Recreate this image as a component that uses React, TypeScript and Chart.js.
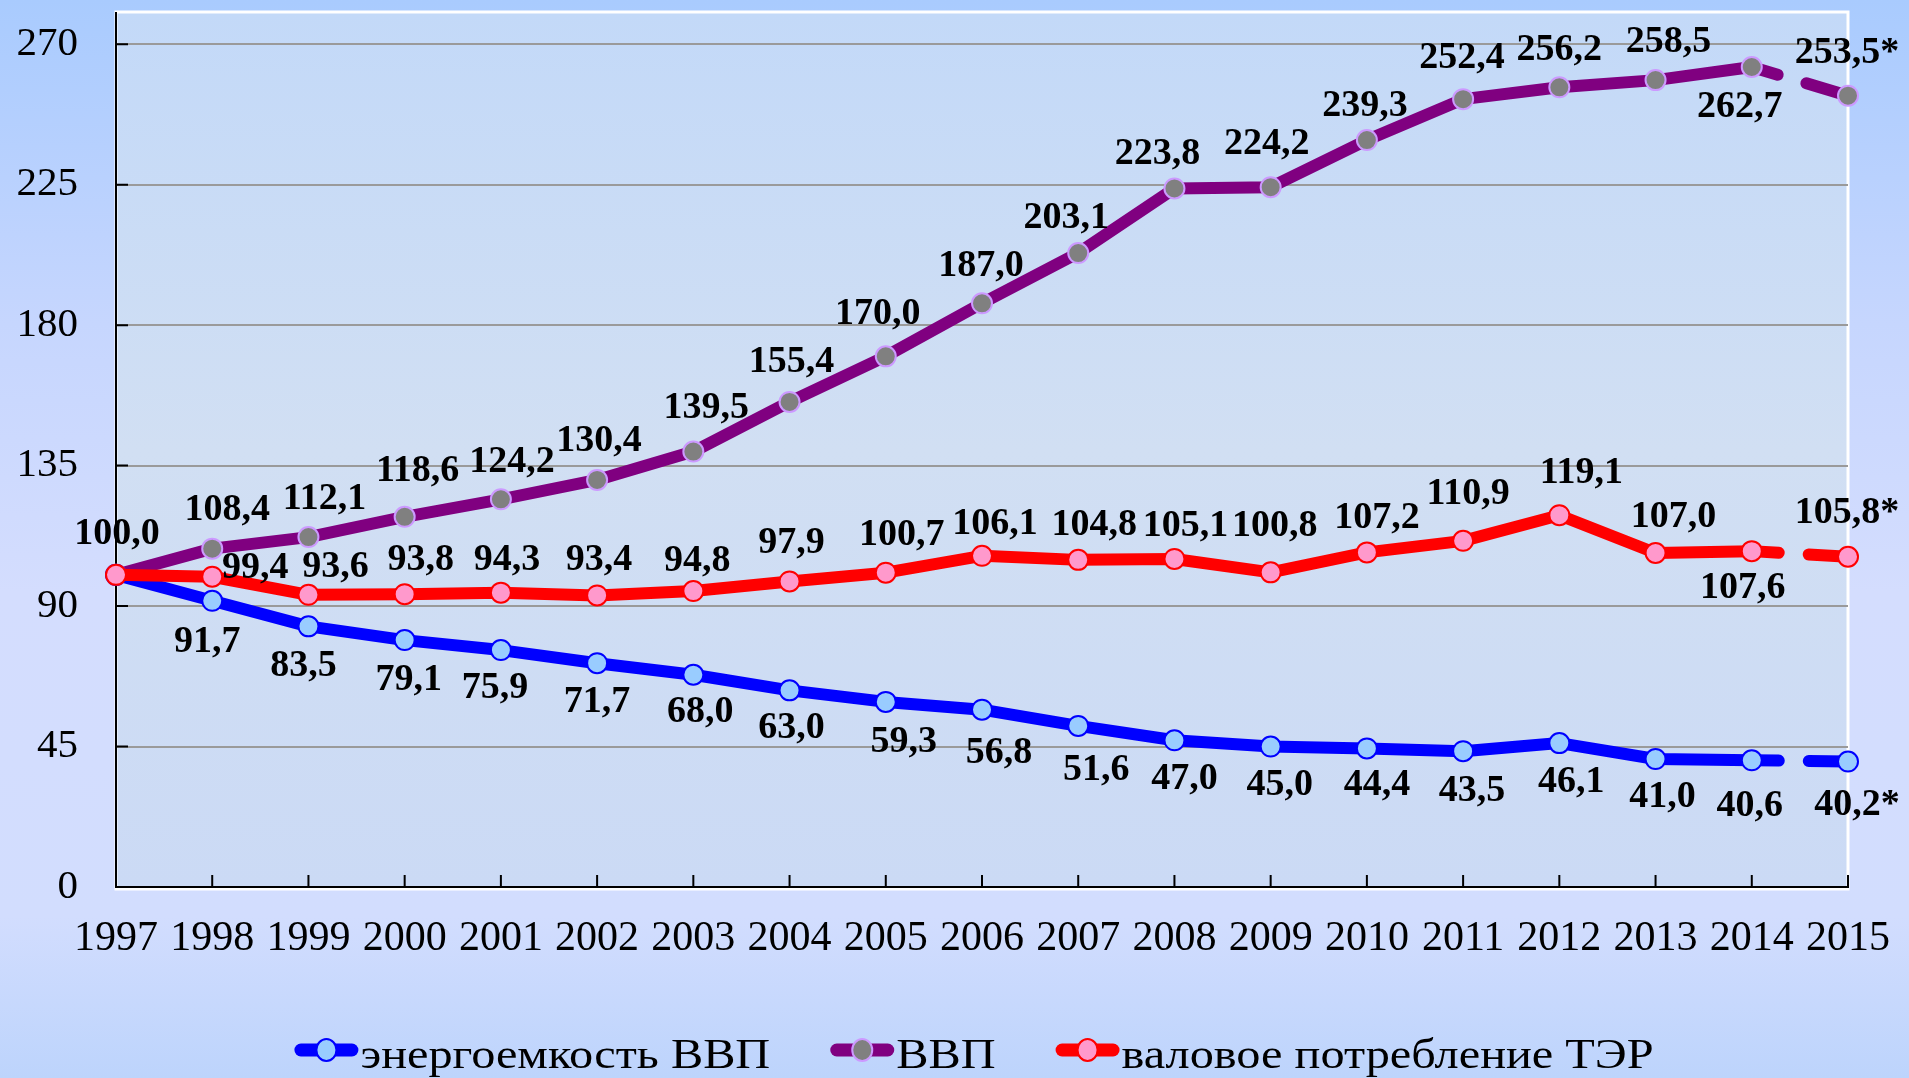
import React, { useEffect, useRef } from 'react';
import { Chart, registerables } from 'chart.js';

Chart.register(...registerables);

// ---------- data ----------
const years = ['1997', '1998', '1999', '2000', '2001', '2002', '2003', '2004', '2005', '2006', '2007', '2008', '2009', '2010', '2011', '2012', '2013', '2014', '2015'];
const energyIntensity = [100.0, 91.7, 83.5, 79.1, 75.9, 71.7, 68.0, 63.0, 59.3, 56.8, 51.6, 47.0, 45.0, 44.4, 43.5, 46.1, 41.0, 40.6, 40.2];
const gdp = [100.0, 108.4, 112.1, 118.6, 124.2, 130.4, 139.5, 155.4, 170.0, 187.0, 203.1, 223.8, 224.2, 239.3, 252.4, 256.2, 258.5, 262.7, 253.5];
const grossConsumption = [100.0, 99.4, 93.6, 93.8, 94.3, 93.4, 94.8, 97.9, 100.7, 106.1, 104.8, 105.1, 100.8, 107.2, 110.9, 119.1, 107.0, 107.6, 105.8];
const yTicks = [0, 45, 90, 135, 180, 225, 270];
const seriesNames = ['энергоемкость ВВП', 'ВВП', 'валовое потребление ТЭР'];
const estimateIndex = 18; // 2015 value is an estimate, marked with "*"

// ---------- label placement (pixel offsets from each point) ----------
type Off = [number, number] | null;
const blueLabelOffsets: Off[] = [null, [-5, 41], [-5, 40], [4, 40], [-6, 38], [0, 39], [7, 37], [2, 38], [18, 40], [17, 43], [18, 44], [10, 39], [9, 39], [10, 37], [9, 40], [12, 39], [7, 38], [-2, 46], [9, 44]];
const gdpLabelOffsets: Off[] = [[1, -41], [15, -38], [16, -38], [13, -46], [11, -37], [2, -39], [13, -43], [2, -40], [-8, -42], [-1, -37], [-12, -35], [-17, -34], [-4, -43], [-2, -34], [-1, -41], [0, -37], [13, -38], [-12, 40], [-1, -43]];
const redLabelOffsets: Off[] = [null, [43, -9], [27, -28], [16, -34], [6, -32], [2, -35], [4, -30], [2, -38], [16, -37], [13, -32], [16, -35], [11, -33], [4, -46], [10, -34], [5, -47], [22, -42], [18, -36], [-9, 37], [-1, -44]];

const FONT = '"Liberation Serif", "Times New Roman", serif';
const W = 1909;
const H = 1078;
const AREA_BOTTOM = 887;
const AREA_RIGHT = 1848;
const LEGEND_STRETCH = 1.15;

const styles = [
  { line: '#0000ff', fill: '#99ccff', border: '#0000ff' },
  { line: '#800080', fill: '#808080', border: '#cc99ff' },
  { line: '#ff0000', fill: '#ff99cc', border: '#ff0000' },
];
const offsets = [blueLabelOffsets, gdpLabelOffsets, redLabelOffsets];

const fmt = (v: number, i: number) => v.toFixed(1).replace('.', ',') + (i === estimateIndex ? '*' : '');

const bgPlugin = {
  id: 'plotBg',
  beforeDraw(chart: any) {
    const { ctx, chartArea: a } = chart;
    ctx.save();
    const g = ctx.createLinearGradient(0, a.top, 0, a.bottom);
    g.addColorStop(0, '#c3d9f8');
    g.addColorStop(0.5, '#d1dff3');
    g.addColorStop(1, '#cbdaf5');
    ctx.fillStyle = g;
    ctx.fillRect(a.left, a.top, a.right - a.left, a.bottom - a.top);
    ctx.strokeStyle = '#ffffff';
    ctx.lineWidth = 3;
    ctx.strokeRect(a.left, a.top - 1, a.right - a.left, a.bottom - a.top + 3);
    ctx.restore();
  },
  beforeDatasetsDraw(chart: any) {
    const { ctx, chartArea: a, scales } = chart;
    ctx.save();
    ctx.strokeStyle = '#000';
    ctx.lineWidth = 2;
    ctx.beginPath();
    yTicks.forEach((v) => {
      if (v === 0) return;
      const py = scales.y.getPixelForValue(v);
      ctx.moveTo(a.left, py);
      ctx.lineTo(a.left + 12, py);
    });
    years.forEach((_, i) => {
      if (i === 0) return;
      const px = scales.x.getPixelForValue(i);
      ctx.moveTo(px, a.bottom);
      ctx.lineTo(px, a.bottom - 12);
    });
    ctx.stroke();
    ctx.restore();
  },
};

const labelPlugin = {
  id: 'valueLabels',
  afterDatasetsDraw(chart: any) {
    const { ctx } = chart;
    ctx.save();
    ctx.font = `bold 38px ${FONT}`;
    ctx.fillStyle = '#000';
    ctx.textAlign = 'center';
    ctx.textBaseline = 'middle';
    chart.data.datasets.forEach((ds: any, d: number) => {
      const meta = chart.getDatasetMeta(d);
      ds.data.forEach((v: number, i: number) => {
        const o = offsets[d][i];
        if (!o) return;
        const el = meta.data[i];
        ctx.fillText(fmt(v, i), el.x + o[0], el.y + o[1]);
      });
    });
    ctx.restore();
  },
};

const legendPlugin = {
  id: 'customLegend',
  afterDraw(chart: any) {
    const { ctx } = chart;
    ctx.save();
    ctx.font = `42px ${FONT}`;
    const markerW = 64;
    const gapText = 2;
    const gapItem = 60;
    const widths = seriesNames.map((n) => ctx.measureText(n).width * LEGEND_STRETCH);
    const total = widths.reduce((s, w) => s + markerW + gapText + w, 0) + gapItem * (seriesNames.length - 1);
    let x = 974 - total / 2;
    const cy = 1050;
    seriesNames.forEach((name, k) => {
      const st = styles[k];
      ctx.strokeStyle = st.line;
      ctx.lineCap = 'round';
      ctx.lineWidth = 13;
      ctx.beginPath();
      ctx.moveTo(x + 6.5, cy);
      ctx.lineTo(x + markerW - 6.5, cy);
      ctx.stroke();
      ctx.beginPath();
      ctx.ellipse(x + markerW / 2, cy, 10, 11, 0, 0, Math.PI * 2);
      ctx.fillStyle = st.fill;
      ctx.fill();
      ctx.lineWidth = 2;
      ctx.strokeStyle = st.border;
      ctx.stroke();
      ctx.fillStyle = '#000';
      ctx.textAlign = 'left';
      ctx.textBaseline = 'alphabetic';
      const tx = x + markerW + gapText;
      ctx.save();
      ctx.translate(tx, 1068);
      ctx.scale(LEGEND_STRETCH, 1);
      ctx.fillText(name, 0, 0);
      ctx.restore();
      x += markerW + gapText + widths[k] + gapItem;
    });
    ctx.restore();
  },
};

function makeDataset(label: string, data: number[], k: number, order: number) {
  const st = styles[k];
  return {
    label,
    data,
    order,
    borderColor: st.line,
    borderWidth: 12,
    borderCapStyle: 'round',
    borderJoinStyle: 'round',
    pointRadius: 10,
    pointBorderWidth: 2,
    pointBackgroundColor: st.fill,
    pointBorderColor: st.border,
    tension: 0,
    fill: false,
    segment: {
      borderDash: (c: any) => (c.p1DataIndex === estimateIndex ? [27, 30, 300] : undefined),
    },
  };
}

export default function App() {
  const ref = useRef<HTMLCanvasElement | null>(null);

  useEffect(() => {
    if (!ref.current) return;
    const chart = new Chart(ref.current, {
      type: 'line',
      data: {
        labels: years,
        datasets: [
          makeDataset(seriesNames[0], energyIntensity, 0, 1),
          makeDataset(seriesNames[1], gdp, 1, 2),
          makeDataset(seriesNames[2], grossConsumption, 2, 0),
        ] as any,
      },
      options: {
        responsive: false,
        maintainAspectRatio: false,
        animation: false,
        events: [],
        layout: { padding: { top: 13, left: 0, right: 0, bottom: 0 } },
        plugins: {
          legend: { display: false },
          tooltip: { enabled: false },
        },
        scales: {
          x: {
            type: 'category',
            offset: false,
            grid: { display: false, drawTicks: false },
            border: { display: true, color: '#000', width: 2 },
            ticks: {
              color: '#000',
              font: { family: FONT, size: 42 },
              padding: 27,
              maxRotation: 0,
              autoSkip: false,
            },
            afterFit: (s: any) => {
              s.height = H - AREA_BOTTOM;
              s.paddingRight = W - AREA_RIGHT;
              s.paddingLeft = 0;
            },
          },
          y: {
            min: 0,
            max: 280,
            afterBuildTicks: (s: any) => {
              s.ticks = yTicks.map((v) => ({ value: v }));
            },
            grid: {
              color: (c: any) => (c.tick && c.tick.value === 0 ? 'rgba(0,0,0,0)' : '#9a9a9a'),
              lineWidth: 2,
              drawTicks: false,
            },
            border: { display: true, color: '#000', width: 2 },
            ticks: {
              color: '#000',
              font: { family: FONT, size: 41 },
              padding: 38,
            },
            afterFit: (s: any) => {
              s.width = 116;
              s.paddingTop = 0;
              s.paddingBottom = 0;
            },
          },
        },
      } as any,
      plugins: [bgPlugin, labelPlugin, legendPlugin],
    });
    return () => chart.destroy();
  }, []);

  return (
    <div
      style={{
        position: 'fixed',
        left: 0,
        top: 0,
        width: W,
        height: H,
        background: 'linear-gradient(180deg, #a9cbfe 0%, #c6d6fe 30%, #d4ddfe 55%, #d2ddfe 85%, #bdd4fc 100%)',
      }}
    >
      <canvas ref={ref} width={W} height={H} style={{ display: 'block', width: W, height: H }} />
    </div>
  );
}
